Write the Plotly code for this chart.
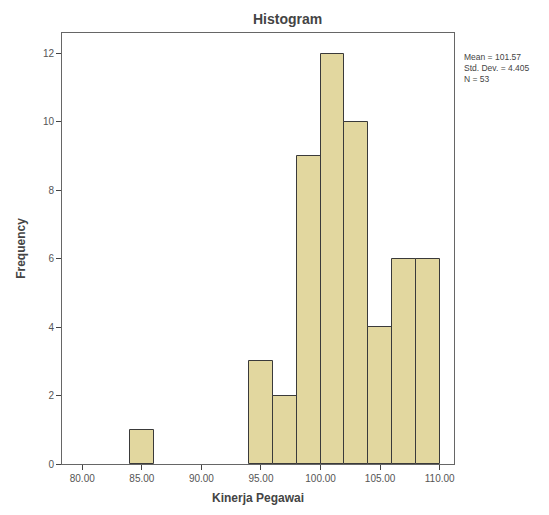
import plotly.graph_objects as go

bin_centers = [85, 95, 97, 99, 101, 103, 105, 107, 109]
frequencies = [1, 3, 2, 9, 12, 10, 4, 6, 6]
x_ticks = [80, 85, 90, 95, 100, 105, 110]
x_tick_labels = ["80.00", "85.00", "90.00", "95.00", "100.00", "105.00", "110.00"]
y_ticks = [0, 2, 4, 6, 8, 10, 12]
stats_lines = ["Mean = 101.57", "Std. Dev. = 4.405", "N = 53"]

fig = go.Figure()
fig.add_trace(go.Bar(
    x=bin_centers, y=frequencies, width=2,
    marker=dict(color="#e2d79f", line=dict(color="#3a3a3a", width=1)),
    showlegend=False,
))

font_family = "Liberation Sans, Arial, sans-serif"
fig.update_layout(
    width=549, height=515,
    margin=dict(l=45, r=103, t=25, b=59),
    paper_bgcolor="white", plot_bgcolor="white",
    font=dict(family=font_family, size=10, color="#444"),
    bargap=0,
    xaxis=dict(
        range=[78.3, 111.2], tickvals=x_ticks, ticktext=x_tick_labels,
        showgrid=False, zeroline=False, showline=True, mirror=True,
        linecolor="#666", linewidth=1, ticks="outside", ticklen=5,
        tickcolor="#444", tickfont=dict(size=10, color="#555"),
        title=dict(text="<b>Kinerja Pegawai</b>", font=dict(size=12, color="#444"), standoff=10),
    ),
    yaxis=dict(
        range=[0, 12.6], tickvals=y_ticks,
        showgrid=False, zeroline=False, showline=True, mirror=True,
        linecolor="#666", linewidth=1, ticks="outside", ticklen=5,
        tickcolor="#444", tickfont=dict(size=10, color="#555"),
        title=dict(text="<b>Frequency</b>", font=dict(size=12, color="#444"), standoff=14),
    ),
)

fig.add_annotation(
    text="<b>Histogram</b>", xref="paper", yref="paper",
    x=(284 - 53) / (454 - 53), y=1, yshift=4,
    xanchor="center", yanchor="bottom", showarrow=False,
    font=dict(size=14, color="#444"),
)
fig.add_annotation(
    text="<br>".join(stats_lines), xref="paper", yref="y",
    x=1, xshift=8, y=12.1,
    xanchor="left", yanchor="top", align="left", showarrow=False,
    font=dict(size=8.5, color="#444"),
)

fig.write_html("out.html")
